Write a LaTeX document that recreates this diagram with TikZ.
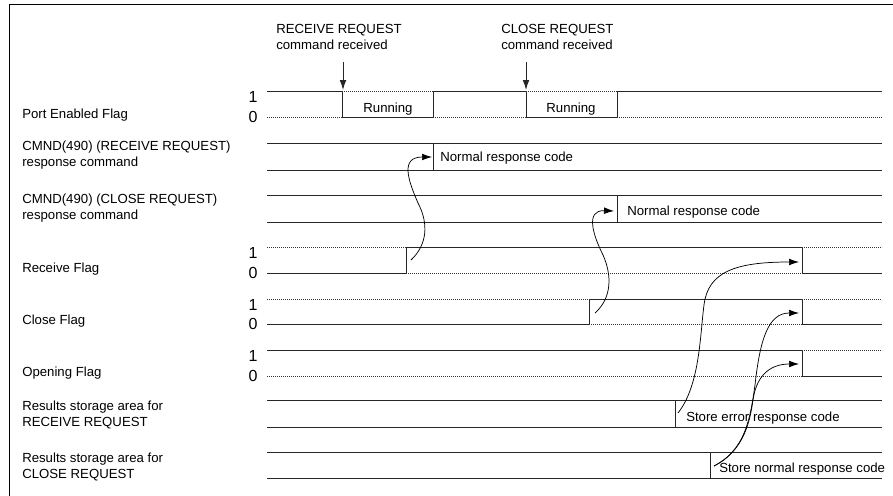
\documentclass[tikz,border=0pt]{standalone}
\usepackage{fontspec}
\setmainfont{Liberation Sans}
\usetikzlibrary{arrows,arrows.meta,positioning}

\tikzset{
  sig/.style={line width=0.7pt,black!85},
  dots/.style={line width=0.55pt,black!80,dash pattern=on 0.6pt off 0.9pt},
  lbl/.style={font=\fontsize{9.9}{12}\selectfont,inner sep=0pt,align=left},
  bit/.style={font=\fontsize{12}{12}\selectfont,inner sep=0pt},
  cause/.style={line width=0.55pt,->},
}

\begin{document}
\begin{tikzpicture}[x=0.75pt,y=-0.75pt,>={Latex[length=7.5pt,width=5pt]}]
\useasboundingbox (0,0) rectangle (893,496);
\draw[line width=0.75pt] (9,496) -- (9,4) -- (893,4);

% row names
\node[lbl,right] (pef) at (22,115) {Port Enabled Flag};
\node[lbl,right] (cmr) at (22,155) {CMND(490) (RECEIVE REQUEST)\\response command};
\node[lbl,right] (cmc) at (22,208) {CMND(490) (CLOSE REQUEST)\\response command};
\node[lbl,right] (rcf) at (22,269) {Receive Flag};
\node[lbl,right] (clf) at (22,321) {Close Flag};
\node[lbl,right] (opf) at (22,373) {Opening Flag};
\node[lbl,right] (rsr) at (22,415) {Results storage area for\\RECEIVE REQUEST};
\node[lbl,right] (rsc) at (22,467) {Results storage area for\\CLOSE REQUEST};

\foreach \hy/\ly in {91/117,247/273,299/324,350/376} {
  \node[bit] (one\hy) at (253,\hy+6) {1};
  \node[bit] (zero\ly) at (253,\ly) {0};
}

% commands
\node[lbl,right] (rrq) at (276,37) {RECEIVE REQUEST\\command received};
\node[lbl,right] (crq) at (501,37) {CLOSE REQUEST\\command received};
\coordinate (rra) at (343,62);
\coordinate (rrb) at (343,90);
\coordinate (cra) at (526,62);
\coordinate (crb) at (526,90);
\draw[sig,->] (rra) -- (rrb);
\draw[sig,->] (cra) -- (crb);

% Port Enabled Flag
\draw[sig] (267,91) -- (342,91) -- (342,117) -- (433,117) -- (433,91) -- (526,91)
  -- (526,117) -- (617,117) -- (617,91) -- (882,91);
\draw[dots] (267,117) -- (342,117) (342,91) -- (433,91) (433,117) -- (526,117)
  (526,91) -- (617,91) (617,117) -- (882,117);
\node[lbl] (run1) at (388,109) {Running};
\node[lbl] (run2) at (571,109) {Running};

% two-line areas
\foreach \t/\b/\e in {143/170/433,195/222/617,400/427/675,452/478/710}
  \draw[sig] (267,\t) -- (882,\t) (267,\b) -- (882,\b) (\e,\t) -- (\e,\b);
\node[lbl,right] (nr1) at (440,158) {Normal response code};
\node[lbl,right] (nr2) at (627,212) {Normal response code};
\node[lbl,right] (ser) at (686,418) {Store error response code};
\node[lbl,right] (snr) at (719,469) {Store normal response code};

% flags
\draw[sig] (267,273) -- (406,273) -- (406,247) -- (802,247) -- (802,273) -- (882,273);
\draw[dots] (267,247) -- (406,247) (406,273) -- (802,273) (802,247) -- (882,247);
\draw[sig] (267,324) -- (589,324) -- (589,299) -- (802,299) -- (802,324) -- (882,324);
\draw[dots] (267,299) -- (589,299) (589,324) -- (802,324) (802,299) -- (882,299);
\draw[sig] (267,350) -- (802,350) -- (802,376) -- (882,376);
\draw[dots] (267,376) -- (802,376) (802,350) -- (882,350);

% causes
\coordinate (c1a) at (411,260);
\coordinate (c1b) at (432,157);
\coordinate (c2a) at (595,313);
\coordinate (c2b) at (614,211);
\coordinate (c3a) at (678,413);
\coordinate (c3b) at (799,262);
\coordinate (c4a) at (714,466);
\coordinate (c4b) at (799,313);
\coordinate (c5b) at (799,364);
\draw[cause] (c1a) .. controls (427,245) and (429,224) .. (418,203)
  .. controls (408,180) and (400,157) .. (c1b);
\draw[cause] (c2a) .. controls (612,298) and (612,275) .. (603,255)
  .. controls (593,235) and (585,210) .. (c2b);
\draw[cause] (c3a) .. controls (700,385) and (700,335) .. (704,305)
  .. controls (708,272) and (735,262) .. (c3b);
\draw[cause] (c4a) .. controls (745,450) and (750,420) .. (755,385)
  .. controls (760,340) and (768,313) .. (c4b);
\draw[cause] (c4a) .. controls (745,450) and (750,420) .. (753,400)
  .. controls (756,378) and (768,364) .. (c5b);
\end{tikzpicture}
\end{document}
